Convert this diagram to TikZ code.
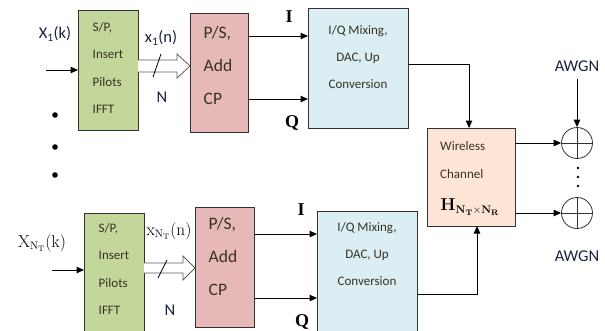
\documentclass[tikz,border=0pt]{standalone}
\usepackage[no-math]{fontspec}
\setmainfont{Carlito}
\newfontfamily\serifI{Liberation Serif}
\usetikzlibrary{arrows.meta}
\definecolor{gfill}{RGB}{196,215,155}
\definecolor{pfill}{RGB}{230,185,184}
\definecolor{bfill}{RGB}{218,238,243}
\definecolor{cfill}{RGB}{252,229,214}
\definecolor{edge}{RGB}{50,50,50}
\definecolor{btext}{RGB}{55,50,35}
\definecolor{ltext}{RGB}{25,35,60}
\begin{document}
\begin{tikzpicture}[x=1pt,y=-1pt,
  >={Triangle[length=7.5pt,width=6.5pt]},
  box/.style={draw=edge,line width=0.9pt,inner sep=0pt,outer sep=0pt},
  gbox/.style={box,fill=gfill},
  pbox/.style={box,fill=pfill},
  bbox/.style={box,fill=bfill},
  cbox/.style={box,fill=cfill},
  txt/.style={text=btext,font=\fontsize{13}{27.5}\selectfont,align=left,inner sep=0pt},
  ptxt/.style={text=btext,font=\fontsize{17.5}{33}\selectfont,align=left,inner sep=0pt},
  btxt/.style={text=btext,font=\fontsize{13}{27}\selectfont,align=center,inner sep=0pt},
  lab/.style={text=ltext,font=\fontsize{16.5}{18}\selectfont,inner sep=0pt},
  slab/.style={text=black,font=\fontsize{16}{18}\selectfont,inner sep=0pt},
  iq/.style={font=\fontsize{18}{18}\selectfont\serifI\bfseries,inner sep=0pt},
  conn/.style={line width=1pt,->},
  hollow/.style={draw=edge!80,line width=0.8pt,fill=white},
  sum/.style={circle,draw=edge,line width=0.8pt,minimum size=31pt,inner sep=0pt},
  bigdot/.style={fill=black},
]
\useasboundingbox (0,0) rectangle (605,330);
\clip (0,0) rectangle (605,330);

% ---- top chain
\node[gbox,minimum width=60pt,minimum height=120pt] (g1) at (108,70) {};
\node[txt] (g1t) at (108,68) {S/P,\\Insert\\Pilots\\IFFT};
\node[pbox,minimum width=58pt,minimum height=119pt] (p1) at (219,72.5) {};
\node[ptxt] (p1t) at (218,65) {P/S,\\Add\\CP};
\node[bbox,minimum width=100pt,minimum height=120pt] (b1) at (358,68) {};
\node[btxt] (b1t) at (358,57) {I/Q Mixing,\\DAC, Up\\Conversion};

% ---- bottom chain
\node[gbox,minimum width=60pt,minimum height=132pt] (g2) at (114,279) {};
\node[txt] (g2t) at (114,269) {S/P,\\Insert\\Pilots\\IFFT};
\node[pbox,minimum width=59pt,minimum height=120pt] (p2) at (224.5,267) {};
\node[ptxt] (p2t) at (223,256) {P/S,\\Add\\CP};
\node[bbox,minimum width=100pt,minimum height=134pt] (b2) at (367,278) {};
\node[btxt] (b2t) at (367,254) {I/Q Mixing,\\DAC, Up\\Conversion};

% ---- channel
\node[cbox,minimum width=88pt,minimum height=98pt] (ch) at (471,177) {};
\node[txt,text=btext] (cht) at (440,160) [anchor=west] {Wireless\\Channel};
\node[inner sep=0pt,font=\fontsize{16}{18}\selectfont] (chH) at (470,207)
  {$\mathbf{H}_{\mathbf{N}_{\mathbf{T}}\times\mathbf{N}_{\mathbf{R}}}$};

% ---- summers
\node[sum] (s1) at (577,143) {};
\node[sum] (s2) at (577,213) {};
\draw[line width=0.8pt,draw=edge] (s1.north) -- (s1.south) (s1.west) -- (s1.east);
\draw[line width=0.8pt,draw=edge] (s2.north) -- (s2.south) (s2.west) -- (s2.east);
\node[lab] (a1) at (577,66) {AWGN};
\node[lab] (a2) at (577,256) {AWGN};

% ---- labels
\node[lab] (x1k) at (55,34) {X\textsubscript{1}(k)};
\node[lab] (x1n) at (161,38) {x\textsubscript{1}(n)};
\node[lab] (n1) at (162,97) {N};
\node[slab] (xnk) at (42,243) {$\mathrm{X}_{\mathrm{N_T}}(\mathrm{k})$};
\node[slab] (xnn) at (169,231) {$\mathrm{x}_{\mathrm{N_T}}(\mathrm{n})$};
\node[lab] (n2) at (170,310) {N};
\node[iq] (i1) at (289,17) {I};
\node[iq] (q1) at (292,123) {Q};
\node[iq] (i2) at (301,210) {I};
\node[iq] (q2) at (302,322) {Q};

% ---- input arrows
\coordinate (in1) at (46,70);
\coordinate (in2) at (52,270);
\draw[conn] (in1) -- (g1.west |- in1);
\draw[conn] (in2) -- (g2.west |- in2);

% ---- hollow arrows
\draw[hollow] (g1.east |- 0,60) -- (177,60) -- (177,54) -- (p1.west |- 0,66) -- (177,78) -- (177,72) -- (g1.east |- 0,72);
\draw[line width=0.8pt] (153,77) -- (161,54);
\draw[hollow] (g2.east |- 0,263) -- (183,263) -- (183,256) -- (p2.west |- 0,268) -- (183,280) -- (183,273) -- (g2.east |- 0,273);
\draw[line width=0.8pt] (158,278) -- (167,260);

% ---- I/Q arrows
\draw[conn] (p1.east |- 0,36) -- (b1.west |- 0,36);
\draw[conn] (p1.east |- 0,99) -- (b1.west |- 0,99);
\draw[conn] (p2.east |- 0,234) -- (b2.west |- 0,234);
\draw[conn] (p2.east |- 0,298) -- (b2.west |- 0,298);

% ---- to channel
\draw[conn] (b1.east |- 0,64) -| (ch.north -| 469,0);
\draw[conn] (b2.east |- 0,294) -| (ch.south -| 477,0);

% ---- channel outputs
\draw[conn] (ch.east |- s1) -- (s1.west);
\draw[conn] (ch.east |- s2) -- (s2.west);
\draw[conn] (a1.south) ++(0,7) -- (s1.north);

% ---- dots
\fill[bigdot] (55,115) circle (2.8pt) (55,147) circle (2.8pt) (55,175) circle (2.8pt);
\fill[bigdot] (578,168) circle (1.4pt) (578,177) circle (1.4pt) (578,186) circle (1.4pt);
\end{tikzpicture}
\end{document}
